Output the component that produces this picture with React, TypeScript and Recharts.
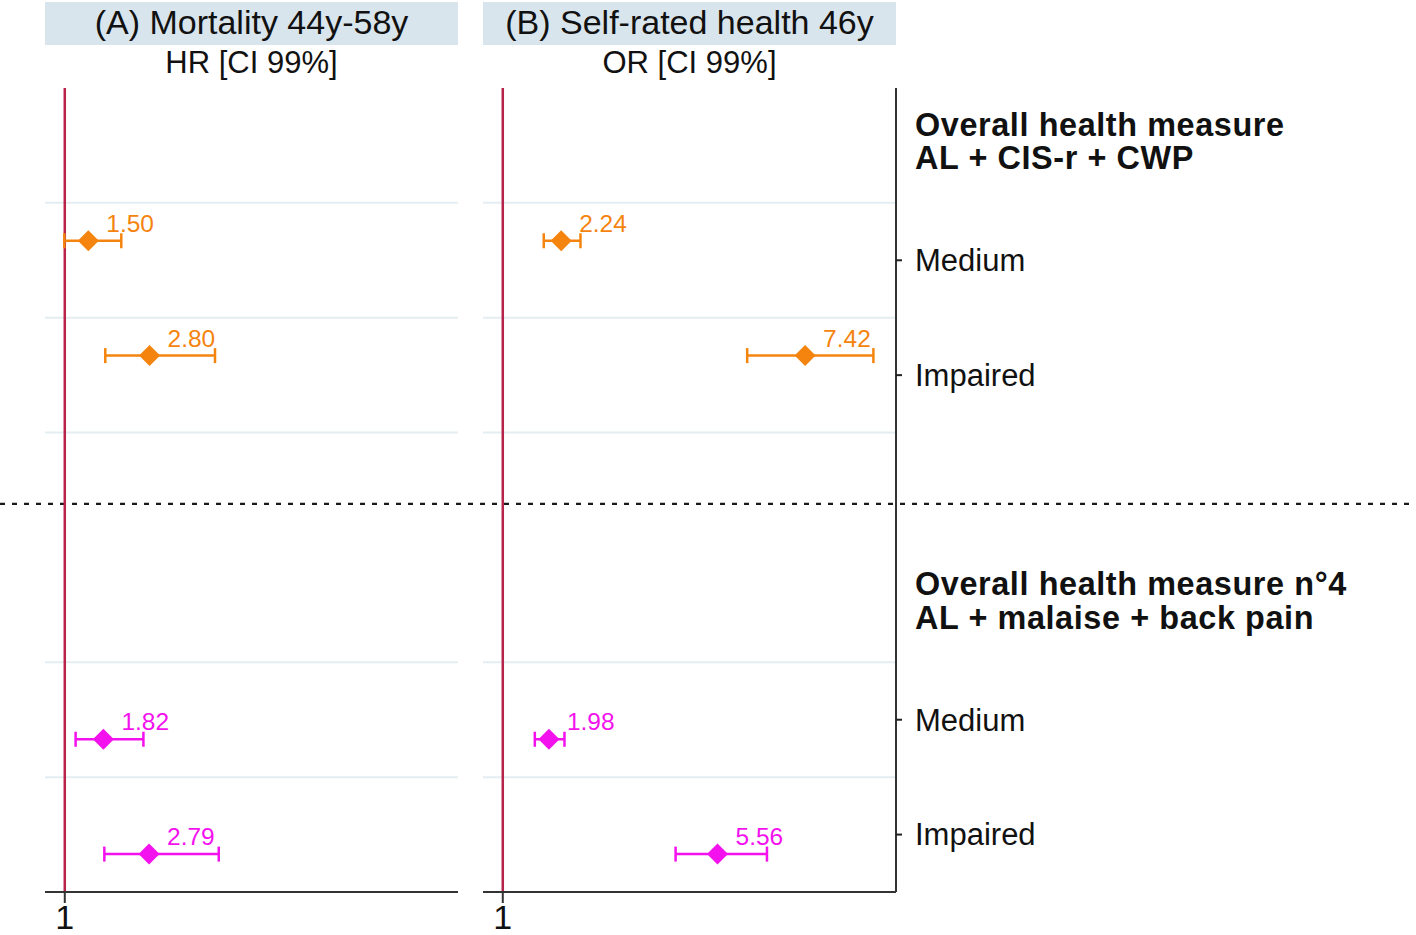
import React from "react";
import { ComposedChart, Scatter, ErrorBar, XAxis, YAxis, ReferenceLine } from "recharts";

const W = 1416;
const H = 935;
const FONT = "'Liberation Sans', Arial, sans-serif";

// rows: position on the band axis (0 = top of the panels, 7 = bottom)
const rowLabels = ["Medium", "Impaired", "Medium", "Impaired"];
const rowPos = [1.33, 2.33, 5.67, 6.67];
const rowGroup = [0, 0, 1, 1];
const rowTickPos = [1.5, 2.5, 5.5, 6.5];

const groupTitles = [
  ["Overall health measure", "AL + CIS-r + CWP"],
  ["Overall health measure n°4", "AL + malaise + back pain"],
];
const groupTitlePos = [0.46, 4.46];
const groupColors = ["#f5840f", "#f312ee"];

const gridRows = [1, 2, 3, 5, 6];
const separatorPos = 3.62;

// (A) mortality hazard ratios
const hrEst = [1.5, 2.8, 1.82, 2.79];
const hrLow = [0.99, 1.86, 1.23, 1.84];
const hrHigh = [2.2, 4.19, 2.67, 4.27];

// (B) self-rated health odds ratios
const orEst = [2.24, 7.42, 1.98, 5.56];
const orLow = [1.87, 6.19, 1.68, 4.67];
const orHigh = [2.65, 8.87, 2.31, 6.61];

const xDomain = [0.58, 9.35];
const xTicks = [1];

const panels = [
  { title: "(A) Mortality 44y-58y", sub: "HR [CI 99%]", left: 45, right: 458, est: hrEst, low: hrLow, high: hrHigh },
  { title: "(B) Self-rated health 46y", sub: "OR [CI 99%]", left: 483, right: 896, est: orEst, low: orLow, high: orHigh },
];

const PLOT_TOP = 88;
const PLOT_BOTTOM = 892;
const AXIS_W = 500;

function buildRows(est: number[], low: number[], high: number[], group: number) {
  return est
    .map((e, i) => ({ y: rowPos[i], est: e, err: [e - low[i], high[i] - e], g: rowGroup[i] }))
    .filter((r) => r.g === group);
}

const makeMarker = (color: string) => (props: any) => {
  const { cx, cy, payload } = props;
  const r = 10.5;
  return (
    <g>
      <polygon points={`${cx},${cy - r} ${cx + r},${cy} ${cx},${cy + r} ${cx - r},${cy}`} fill={color} />
      <text x={cx + 18} y={cy - 9} fill={color} fontSize={24.5} fontFamily={FONT}>
        {payload.est.toFixed(2)}
      </text>
    </g>
  );
};

function RightTick(props: any) {
  const { x, y, payload } = props;
  const gi = groupTitlePos.indexOf(payload.value);
  if (gi >= 0) {
    const common = { x, fontSize: 32.4, fontWeight: "bold", fill: "#111", fontFamily: FONT, letterSpacing: 0.6 };
    return (
      <g>
        <text {...common} y={y - 5}>{groupTitles[gi][0]}</text>
        <text {...common} y={y + 28.5}>{groupTitles[gi][1]}</text>
      </g>
    );
  }
  const ri = rowTickPos.indexOf(payload.value);
  return (
    <g>
      <line x1={x - 19} x2={x - 13} y1={y} y2={y} stroke="#222" strokeWidth={2} />
      <text x={x} y={y} dy="0.35em" fontSize={31} fill="#111" fontFamily={FONT}>
        {rowLabels[ri]}
      </text>
    </g>
  );
}

function Panel({ p, idx }: { p: (typeof panels)[number]; idx: number }) {
  const isLast = idx === panels.length - 1;
  const margin = {
    top: PLOT_TOP,
    left: p.left,
    bottom: H - PLOT_BOTTOM - 40,
    right: isLast ? W - p.right - AXIS_W : W - p.right,
  };
  return (
    <div style={{ position: "absolute", left: 0, top: 0 }}>
      <ComposedChart width={W} height={H} margin={margin}>
        <XAxis
          type="number"
          dataKey="est"
          domain={xDomain}
          ticks={xTicks}
          allowDataOverflow
          height={40}
          tickSize={11}
          tickMargin={2}
          tick={{ fontSize: 34, fill: "#111", fontFamily: FONT }}
          axisLine={{ stroke: "#333", strokeWidth: 2 }}
          tickLine={{ stroke: "#333", strokeWidth: 2 }}
        />
        <YAxis
          type="number"
          dataKey="y"
          domain={[0, 7]}
          reversed
          hide={!isLast}
          orientation="right"
          width={AXIS_W}
          ticks={[...groupTitlePos, ...rowTickPos]}
          tick={<RightTick />}
          tickLine={false}
          tickSize={5}
          tickMargin={14}
          axisLine={{ stroke: "#333", strokeWidth: 2 }}
          interval={0}
        />
        {gridRows.map((g) => (
          <ReferenceLine key={g} y={g} stroke="#e4edf1" strokeWidth={2} />
        ))}
        {idx === 0 && (
          <ReferenceLine
            y={separatorPos}
            shape={(lp: any) => (
              <line x1={0} x2={W} y1={lp.y1} y2={lp.y1} stroke="#1a1a1a" strokeWidth={2.2} strokeDasharray="5 7" />
            )}
          />
        )}
        <ReferenceLine x={1} stroke="#b8234a" strokeWidth={2.5} />
        {[0, 1].map((g) => (
          <Scatter
            key={g}
            data={buildRows(p.est, p.low, p.high, g)}
            dataKey="est"
            fill={groupColors[g]}
            shape={makeMarker(groupColors[g])}
            isAnimationActive={false}
          >
            <ErrorBar
              dataKey="err"
              direction="x"
              width={7.5}
              stroke={groupColors[g]}
              strokeWidth={2.5}
              isAnimationActive={false}
            />
          </Scatter>
        ))}
      </ComposedChart>
      <div
        style={{
          position: "absolute",
          left: p.left,
          top: 2,
          width: p.right - p.left,
          height: 43,
          lineHeight: "41px",
          background: "#d9e5ed",
          textAlign: "center",
          fontSize: 34,
          color: "#111",
          fontFamily: FONT,
        }}
      >
        {p.title}
      </div>
      <div
        style={{
          position: "absolute",
          left: p.left,
          top: 46,
          width: p.right - p.left,
          lineHeight: "34px",
          textAlign: "center",
          fontSize: 31,
          color: "#111",
          fontFamily: FONT,
        }}
      >
        {p.sub}
      </div>
    </div>
  );
}

export default function App() {
  return (
    <div style={{ position: "absolute", left: 0, top: 0, width: W, height: H, background: "#fff", overflow: "hidden" }}>
      {panels.map((p, i) => (
        <Panel key={i} p={p} idx={i} />
      ))}
    </div>
  );
}
